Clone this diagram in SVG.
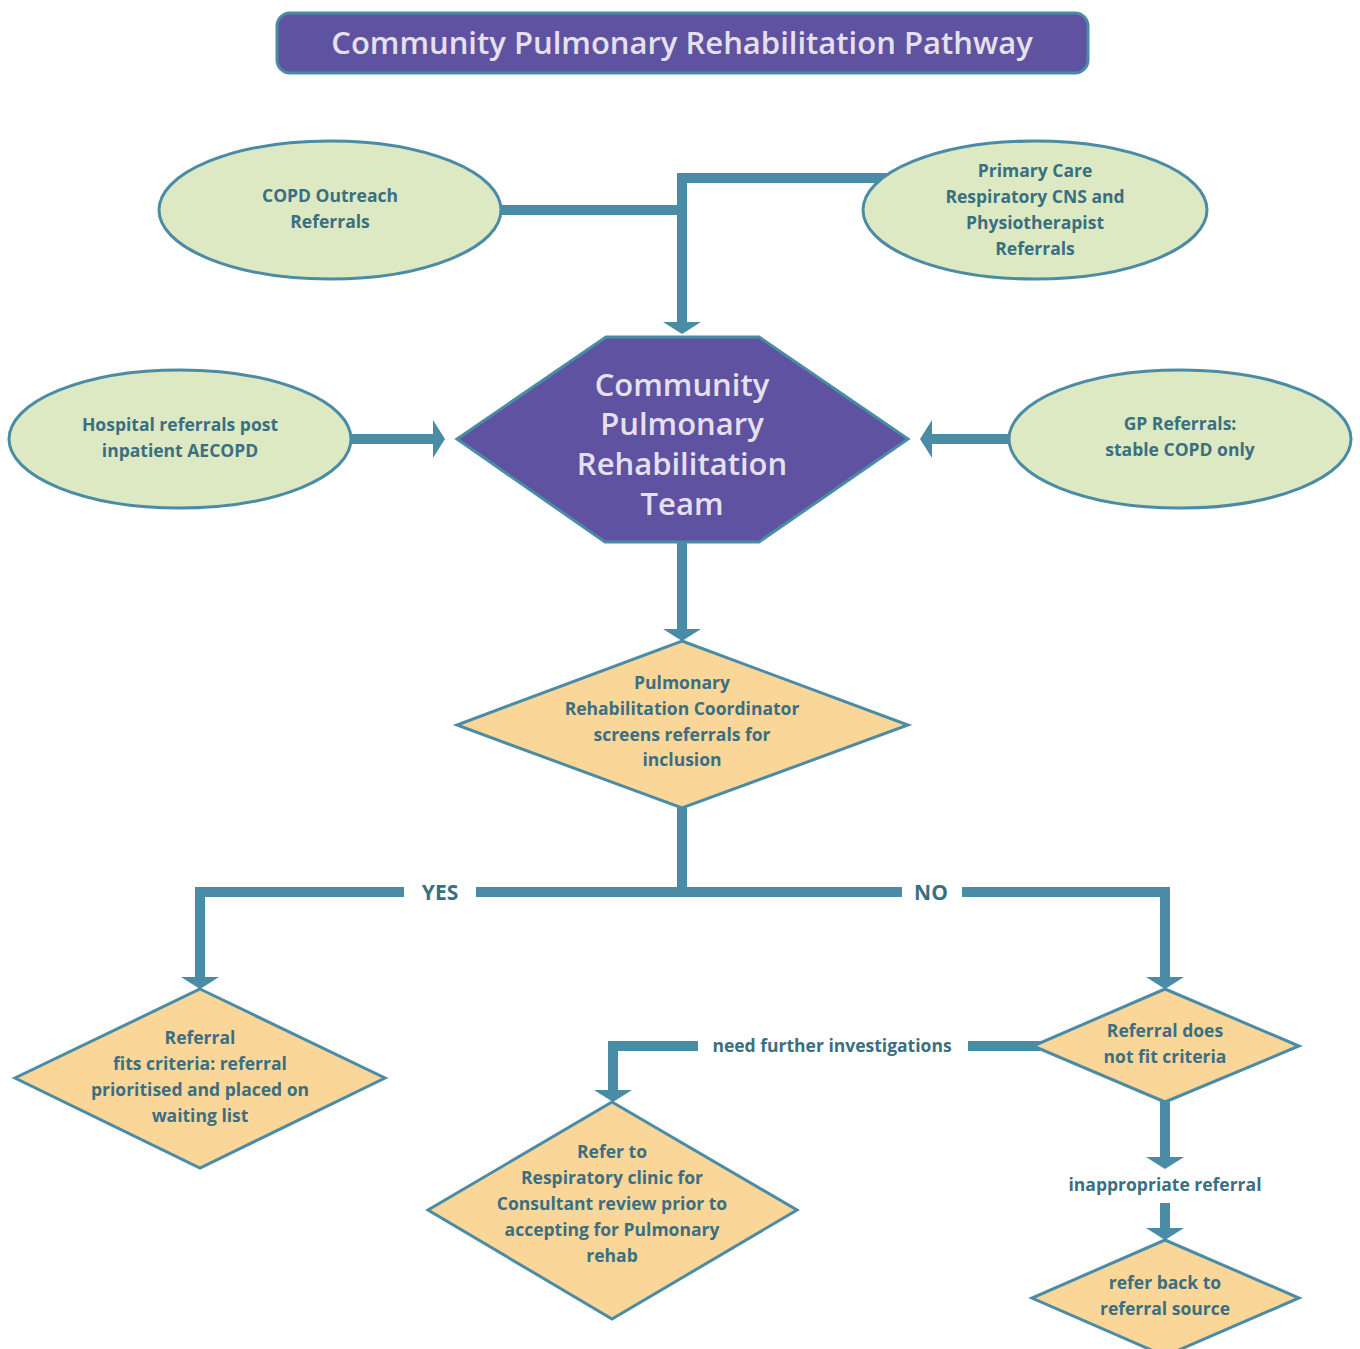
<svg xmlns="http://www.w3.org/2000/svg" width="1360" height="1349" viewBox="0 0 1360 1349">
<style>
.conn{fill:none;stroke:#4A8BA5;stroke-width:10;stroke-linejoin:miter;stroke-linecap:butt}
.ell{fill:#DCE9C2;stroke:#4A8BA5;stroke-width:3}
.dia{fill:#FBD699;stroke:#4A8BA5;stroke-width:3}
.purple{fill:#5F52A0;stroke:#4A8BA5;stroke-width:3}
.t{font-family:"Open Sans","Noto Sans",sans-serif;font-weight:700;font-size:17.5px;fill:#3A6F82;text-anchor:middle}
.lbl{font-family:"Open Sans","Noto Sans",sans-serif;font-weight:700;font-size:17.5px;fill:#3A6F82;text-anchor:middle}
.yn{font-family:"Open Sans","Noto Sans",sans-serif;font-weight:700;font-size:21px;fill:#3A6F82;text-anchor:middle}
.w{font-family:"Open Sans","Noto Sans",sans-serif;font-weight:600;fill:#E6E0EE;text-anchor:middle}
</style>
<defs>
<marker id="ah" markerUnits="userSpaceOnUse" viewBox="0 0 12 38" refX="0" refY="19" markerWidth="12" markerHeight="38" orient="auto">
<path d="M0,0 L12,19 L0,38 Z" fill="#4A8BA5"/>
</marker>
</defs>
<g id="title">
<rect x="277" y="13" width="811" height="60" rx="13" class="purple"/>
<text x="682" y="54" class="w" font-size="31">Community Pulmonary Rehabilitation Pathway</text>
</g>
<g id="connectors">
<path class="conn" d="M501,210 H682"/>
<path class="conn" d="M900,178 H682 V322" marker-end="url(#ah)"/>
<path class="conn" d="M351,439 H433" marker-end="url(#ah)"/>
<path class="conn" d="M1009,439 H932" marker-end="url(#ah)"/>
<path class="conn" d="M682,542 V629" marker-end="url(#ah)"/>
<path class="conn" d="M682,808 V897"/>
<path class="conn" d="M476,892 H902"/>
<path class="conn" d="M404,892 H200 V977" marker-end="url(#ah)"/>
<path class="conn" d="M962,892 H1165 V977" marker-end="url(#ah)"/>
<path class="conn" d="M1045,1046 H968"/>
<path class="conn" d="M698,1046 H613 V1090" marker-end="url(#ah)"/>
<path class="conn" d="M1165,1102 V1157" marker-end="url(#ah)"/>
<path class="conn" d="M1165,1203 V1228" marker-end="url(#ah)"/>
<text x="440" y="900" class="yn">YES</text>
<text x="931" y="900" class="yn">NO</text>
<text x="832" y="1052" class="lbl">need further investigations</text>
<text x="1165" y="1191" class="lbl">inappropriate referral</text>
</g>
<g id="copd-outreach">
<ellipse cx="330" cy="210" rx="171" ry="69" class="ell"/>
<text class="t"><tspan x="330" y="202">COPD Outreach</tspan><tspan x="330" y="228">Referrals</tspan></text>
</g>
<g id="primary-care">
<ellipse cx="1035" cy="210" rx="172" ry="69" class="ell"/>
<text class="t"><tspan x="1035" y="177">Primary Care</tspan><tspan x="1035" y="203">Respiratory CNS and</tspan><tspan x="1035" y="229">Physiotherapist</tspan><tspan x="1035" y="255">Referrals</tspan></text>
</g>
<g id="hospital">
<ellipse cx="180" cy="439" rx="171" ry="69" class="ell"/>
<text class="t"><tspan x="180" y="431">Hospital referrals post</tspan><tspan x="180" y="457">inpatient AECOPD</tspan></text>
</g>
<g id="gp">
<ellipse cx="1180" cy="439" rx="171" ry="69" class="ell"/>
<text class="t"><tspan x="1180" y="430">GP Referrals:</tspan><tspan x="1180" y="456">stable COPD only</tspan></text>
</g>
<g id="team">
<polygon points="606,337 759,337 908,439 759,542 605,542 457,439" class="purple"/>
<text class="w" font-size="31"><tspan x="682" y="396">Community</tspan><tspan x="682" y="435">Pulmonary</tspan><tspan x="682" y="475">Rehabilitation</tspan><tspan x="682" y="515">Team</tspan></text>
</g>
<g id="coordinator">
<polygon points="682,641 908,725 682,808 457,725" class="dia"/>
<text class="t"><tspan x="682" y="689">Pulmonary</tspan><tspan x="682" y="715">Rehabilitation Coordinator</tspan><tspan x="682" y="741">screens referrals for</tspan><tspan x="682" y="766">inclusion</tspan></text>
</g>
<g id="fits-criteria">
<polygon points="200,989 385,1078 200,1168 15,1078" class="dia"/>
<text class="t"><tspan x="200" y="1044">Referral</tspan><tspan x="200" y="1070">fits criteria: referral</tspan><tspan x="200" y="1096">prioritised and placed on</tspan><tspan x="200" y="1122">waiting list</tspan></text>
</g>
<g id="not-fit">
<polygon points="1165,989 1299,1046 1165,1102 1033,1046" class="dia"/>
<text class="t"><tspan x="1165" y="1037">Referral does</tspan><tspan x="1165" y="1063">not fit criteria</tspan></text>
</g>
<g id="respiratory-clinic">
<polygon points="612,1102 797,1210 612,1319 428,1210" class="dia"/>
<text class="t"><tspan x="612" y="1158">Refer to</tspan><tspan x="612" y="1184">Respiratory clinic for</tspan><tspan x="612" y="1210">Consultant review prior to</tspan><tspan x="612" y="1236">accepting for Pulmonary</tspan><tspan x="612" y="1262">rehab</tspan></text>
</g>
<g id="refer-back">
<polygon points="1165,1240 1299,1298 1165,1356 1032,1298" class="dia"/>
<text class="t"><tspan x="1165" y="1289">refer back to</tspan><tspan x="1165" y="1315">referral source</tspan></text>
</g>
</svg>
